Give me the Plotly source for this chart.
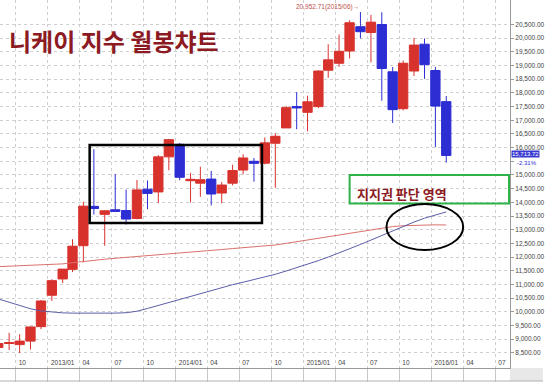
import pandas as pd
import plotly.graph_objects as go

# ---------------- data ----------------
opens = [8695, 8840, 8800, 8928, 9457, 10604, 11200, 11550, 12415, 13853, 13560, 13729,
         13700, 13410, 14480, 14380, 15662, 16120, 14790, 14700, 14850, 14340, 14700, 15180,
         15500, 15430, 16160, 16720, 17500, 17290, 17500, 18828, 19083, 19530, 20420, 20207,
         20498, 18770, 17423, 18800, 19780, 18818, 17680]
highs = [9222, 9230, 9180, 9460, 10433, 11191, 11562, 12650, 14027, 15942, 13711, 15032,
         14466, 14817, 14799, 15727, 16320, 16164, 15080, 15300, 15150, 14740, 15376, 15759,
         15620, 16374, 16533, 17520, 18030, 17900, 18830, 19778, 20133, 20655, 20953, 20850,
         20946, 18946, 19186, 20012, 19990, 18951, 17886]
lows = [8656, 8600, 8490, 8620, 9366, 10398, 11050, 11450, 11806, 13555, 12415, 13651,
        13188, 13380, 13748, 13973, 15171, 14808, 13995, 14203, 13885, 13964, 14621, 15024,
        14753, 15389, 14529, 16720, 16672, 16592, 17444, 18553, 18954, 19258, 19990, 19115,
        17714, 16901, 17357, 18617, 18513, 16017, 15450]
closes = [8839, 8870, 8928, 9446, 10395, 11138, 11559, 12397, 13860, 13774, 13690, 13668,
          13389, 14455, 14327, 15662, 16291, 14915, 14841, 14828, 14304, 14632, 15162, 15621,
          15425, 16174, 16414, 17460, 17451, 17674, 18798, 19207, 19520, 20563, 20236, 20585,
          18891, 17388, 19083, 19747, 19034, 17518, 15713]
ma_long = [11650, 11665, 11680, 11695, 11715, 11730, 11750, 11795, 11845, 11890, 11920, 11955,
           11985, 12020, 12050, 12085, 12115, 12150, 12180, 12215, 12245, 12275, 12310, 12340,
           12375, 12405, 12440, 12500, 12560, 12620, 12685, 12745, 12805, 12865, 12925, 12990,
           13055, 13115, 13145, 13165, 13175, 13178, 13172]
ma_mid = [10470, 10340, 10220, 10110, 10030, 9985, 9960, 9950, 9945, 9945, 9945, 9950,
          9965, 10020, 10120, 10230, 10340, 10450, 10570, 10680, 10790, 10890, 10990, 11080,
          11170, 11270, 11370, 11490, 11610, 11740, 11870, 12000, 12150, 12300, 12460, 12620,
          12790, 12960, 13110, 13280, 13420, 13540, 13650]
first_month = "2012-08-01"

xtick_vals = ["2012-10-01", "2013-01-01", "2013-04-01", "2013-07-01", "2013-10-01",
              "2014-01-01", "2014-04-01", "2014-07-01", "2014-10-01", "2015-01-01",
              "2015-04-01", "2015-07-01", "2015-10-01", "2016-01-01", "2016-04-01", "2016-07-01"]
xtick_text = ["10", "2013/01", "04", "07", "10", "2014/01", "04", "07", "10", "2015/01",
              "04", "07", "10", "2016/01", "04", "07"]
ytick_vals = list(range(8500, 21000, 500))
ytick_text = ["" if v == 15500 else f"{v:,.2f}" for v in ytick_vals]

title_text = "니케이 지수 월봉챠트"
zone_text = "지지권 판단 영역"
peak_text = "20,952.71(2015/06)→"
last_text = "15,713.72"
chg_text = "-2.31%"

# ---------------- figure ----------------
months = pd.date_range(first_month, periods=len(closes), freq="MS")
xpos = months + pd.Timedelta(days=11)

UP = "#d8322d"
DOWN = "#2d2dd4"
TXT_RED = "#8c1a22"

fig = go.Figure()
fig.add_trace(go.Scatter(x=xpos, y=ma_long, mode="lines",
                         line=dict(color="#d9716c", width=1), hoverinfo="skip"))
fig.add_trace(go.Scatter(x=xpos, y=ma_mid, mode="lines",
                         line=dict(color="#5b5ea6", width=1), hoverinfo="skip"))
fig.add_trace(go.Candlestick(
    x=xpos, open=opens, high=highs, low=lows, close=closes,
    increasing=dict(line=dict(color=UP, width=1), fillcolor=UP),
    decreasing=dict(line=dict(color=DOWN, width=1), fillcolor=DOWN),
    whiskerwidth=0,
))

W, H = 545, 382
PL, PR, PB = 512, 33, 14
PH = H - PB


def px(x):
    return x / PL


def py(y):
    return 1 - y / PH


fig.update_layout(
    width=W, height=H,
    margin=dict(l=0, r=PR, t=0, b=PB, pad=0),
    paper_bgcolor="white", plot_bgcolor="white",
    showlegend=False,
    boxgap=0.05, boxgroupgap=0,
    font=dict(family="Liberation Sans", size=7, color="#444"),
    xaxis=dict(
        type="date", range=["2012-08-17", "2016-08-12"],
        rangeslider=dict(visible=False),
        tickmode="array", tickvals=xtick_vals, ticktext=xtick_text,
        ticklabelposition="outside right", ticks="outside", ticklen=13,
        tickcolor="#c8c8c8", tickwidth=1,
        ticklabelstandoff=-12, ticklabelshift=2,
        tickfont=dict(family="Liberation Sans", size=6.5, color="#444"),
        showgrid=True, gridcolor="#cfcfcf", griddash="dot", gridwidth=1,
        showline=True, linecolor="#9a9a9a", linewidth=1,
        zeroline=False,
    ),
    yaxis=dict(
        side="right", range=[7945, 21395],
        tickmode="array", tickvals=ytick_vals, ticktext=ytick_text,
        ticks="outside", ticklen=3, tickcolor="#9a9a9a",
        tickfont=dict(family="Liberation Sans", size=6.5, color="#444"),
        showgrid=True, gridcolor="#cfcfcf", griddash="dot", gridwidth=1,
        showline=True, linecolor="#9a9a9a", linewidth=1,
        zeroline=False,
    ),
)

shapes = [
    # black consolidation box
    dict(type="rect", xref="paper", yref="paper", x0=px(90), x1=px(263), y0=py(223), y1=py(145),
         line=dict(color="black", width=2.5)),
    # green support-zone box
    dict(type="rect", xref="paper", yref="paper", x0=px(351), x1=px(511), y0=py(203.5), y1=py(175),
         line=dict(color="#2fb24a", width=2)),
    # ellipse around crossing
    dict(type="circle", xref="paper", yref="paper", x0=px(388), x1=px(465), y0=py(250), y1=py(204),
         line=dict(color="black", width=2)),
    # bottom strip border and right corner
    dict(type="line", xref="paper", yref="paper", x0=0, x1=W / PL, y0=py(381), y1=py(381),
         line=dict(color="#b0b0b0", width=1)),
    dict(type="rect", xref="paper", yref="paper", x0=1.0, x1=W / PL, y0=py(381), y1=0,
         fillcolor="#e8e8e8", line=dict(width=0), layer="below"),
]
fig.update_layout(shapes=shapes)

annotations = [
    dict(text=f"<b>{title_text}</b>", xref="paper", yref="paper", x=px(7), y=py(40.5),
         xanchor="left", yanchor="middle", showarrow=False,
         font=dict(family="Noto Sans CJK KR", size=24, color=TXT_RED)),
    dict(text=f"<b>{zone_text}</b>", xref="paper", yref="paper", x=px(356), y=py(193.5),
         xanchor="left", yanchor="middle", showarrow=False,
         font=dict(family="Noto Sans CJK KR", size=13, color=TXT_RED)),
    dict(text=peak_text, xref="paper", yref="paper", x=px(362), y=py(7),
         xanchor="right", yanchor="middle", showarrow=False,
         font=dict(family="Liberation Sans", size=6.5, color="#c0504d")),
    dict(text=last_text, xref="paper", yref="y", x=1.0, y=closes[-1],
         xanchor="left", yanchor="middle", xshift=1, yshift=1.5, showarrow=False,
         bgcolor="#3a3ad0", borderpad=0,
         font=dict(family="Liberation Sans", size=6, color="white")),
    dict(text=chg_text, xref="paper", yref="paper", x=px(541), y=py(162.5),
         xanchor="right", yanchor="middle", showarrow=False,
         font=dict(family="Liberation Sans", size=6, color="#2d2dd4")),
]
fig.update_layout(annotations=annotations)

fig.write_html("out.html")
